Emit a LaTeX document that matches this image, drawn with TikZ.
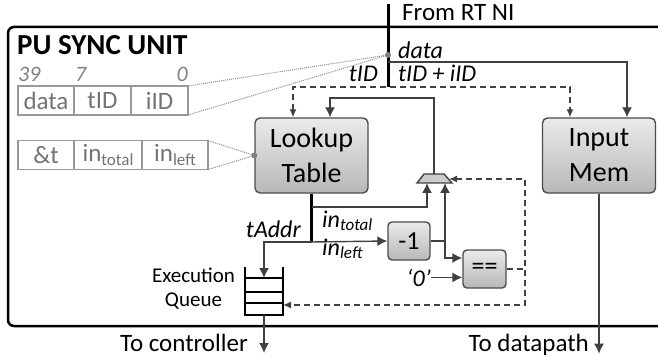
\documentclass[tikz,border=0pt]{standalone}
\usepackage{fontspec}
\setmainfont{Carlito}
\usepackage{tikz}
\usetikzlibrary{arrows.meta, positioning}
\newcommand\lowsub[1]{\raisebox{-0.3ex}{\fontsize{17}{17}\selectfont #1}}
\tikzset{
    x=1pt, y=-1pt, % one unit is one pixel of the sketch, y grows downwards
    >={Latex[length=10pt,width=10pt]}, % filled arrow heads
    wire/.style={line width=1.4pt, draw=black!75},
    bus/.style={line width=3pt, draw=black}, % wide buses
    ctrl/.style={wire, dash pattern=on 6pt off 4pt, >={Latex[length=8pt,width=7pt]}}, % control signals
    peek/.style={densely dotted, line width=1pt, draw=black!45}, % call-outs to the formats
    frame/.style={line width=2.5pt, rounded corners=6pt},
    unit/.style={draw=black!70, line width=1.4pt, rounded corners=5pt, top color=black!8, bottom color=black!28,
        align=center, minimum width=113pt, minimum height=75pt, font=\fontsize{28}{35}\selectfont},
    op/.style={unit, minimum width=42pt, minimum height=38pt, rounded corners=4pt, font=\fontsize{26}{28}\selectfont},
    field/.style={draw=black!40, line width=1.2pt, text=black!55, minimum height=29pt, inner sep=0pt, outer sep=0pt,
        font=\fontsize{25}{28}\selectfont},
    bitnum/.style={text=black!50, inner sep=0pt, font=\fontsize{22}{24}\selectfont\itshape},
    lbl/.style={inner sep=0pt, font=\fontsize{24}{26}\selectfont\itshape},
    txt/.style={inner sep=0pt, font=\fontsize{25}{27}\selectfont},
    tapdot/.style={fill=black!50},
}

\begin{document}
\begin{tikzpicture}
\useasboundingbox (0,0) rectangle (658,358);
% unit outline, open to the right
\draw[frame] (658,27) -- (8,27) -- (8,326) -- (658,326);
\node[anchor=base west, inner sep=0pt, font=\fontsize{29}{31}\selectfont\bfseries] (unitname) at (17,55) {PU SYNC UNIT};

% packet and table entry formats
\node[field, minimum width=56pt] (fdata) at (46,100.5) {data};
\node[field, minimum width=57pt, right=0pt of fdata] (ftid) {tID};
\node[field, minimum width=57pt, right=0pt of ftid] (fiid) {iID};
\node[bitnum, anchor=base west] (b39) at (18,82) {39};
\node[bitnum, anchor=base west] (b7) at (75,82) {7};
\node[bitnum, anchor=base east] (b0) at (188,82) {0};
\node[field, minimum width=56pt] (famp) at (46,155) {\&t};
\node[field, minimum width=68pt, right=0pt of famp] (ftotal) {in\lowsub{total}};
\node[field, minimum width=66pt, right=0pt of ftotal] (fleft) {in\lowsub{left}};

% blocks
\node[unit] (lut) at (311.5,155.5) {Lookup\\Table};
\node[unit] (imem) at (599,155.5) {Input\\Mem};
\node[op] (dec) at (409,241) {-1};
\node[op, minimum width=43pt] (cmp) at (484.5,269) {==};

% mux
\draw[wire, fill=black!20] (417,183) -- (424,174) -- (444,174) -- (452,183) -- cycle;
\coordinate (muxo) at (434,174);
\coordinate (muxa) at (427,183);
\coordinate (muxb) at (445,183);
\coordinate (muxr) at (449,179);

% incoming bus from the NI
\coordinate (ni) at (388,4);
\coordinate (nibot) at (388,87);
\coordinate (tap) at (388,55);
\coordinate (datatap) at (388,62);
\draw[bus] (ni) -- (nibot);
\node[txt, anchor=base west] (fromni) at (402,21) {From RT NI};
\node[lbl, anchor=base west] (ldata) at (398,59) {data};
\node[lbl, anchor=base west] (lkey) at (398,82) {tID + iID};
\node[lbl, anchor=base east] (ltid) at (378,82) {tID};
\draw[wire,->] (datatap) -| ([xshift=28pt]imem.north);
\draw[ctrl,<->] ([xshift=-18.5pt]lut.north) |- (nibot) -| ([xshift=-29pt]imem.north);

% format call-outs
\draw[peek] (tap) -- (fiid.north east);
\draw[peek] (tap) -- (fiid.south east);
\draw[peek] (lut.west) -- (fleft.north east);
\draw[peek] (lut.west) -- (fleft.south east);
\fill[tapdot] (tap) circle (3pt);
\fill[tapdot] (lut.west) circle (3pt);

% lookup outputs
\coordinate (ttap) at (311.5,207);
\coordinate (split) at (311.5,242);
\draw[bus] (lut.south) -- (split);
\draw[wire,->] (ttap) -| (muxa);
\draw[wire,->] (split) -- (dec.west);
\draw[wire,->] (muxo) -- ++(0,-76) -| ([xshift=18.5pt]lut.north);
\node[lbl, anchor=base west] (ltotal) at (322,227) {in\lowsub{total}};
\node[lbl, anchor=base west] (lleft) at (322,255) {in\lowsub{left}};
\node[lbl, anchor=base east] (ltaddr) at (301,237) {tAddr};

% decrement and compare
\coordinate (join) at (445,241);
\draw[wire,->] (dec.east) -| (muxb);
\draw[wire,->] (join) |- ([yshift=11pt]cmp.west);
\node[lbl, anchor=base east] (zero) at (431,286) {‘0’};
\draw[wire,->] (zero.east) -- (zero.east -| cmp.west);

% execution queue
\draw[line width=1.2pt] (245,267) -- (245,315) -- (283,315) -- (283,267);
\foreach \y in {278,292,303}
    \draw[line width=1.2pt] (245,\y) -- (283,\y);
\coordinate (qin) at (264,278);
\coordinate (qfb) at (283,305);
\coordinate (qout) at (264,315);
\node[align=center, font=\fontsize{21}{24}\selectfont] (qname) at (193.5,289) {Execution\\Queue};
\draw[wire,->] (split) -| (qin);

% feedback from the compare
\draw[ctrl] (cmp.east) -- (525,269);
\draw[ctrl,<->] (muxr) -- (525,179) -- (525,305) -- (qfb);

% leaving the unit
\draw[wire,->] (qout) -- ++(0,38);
\draw[wire,->] (imem.south) -- ++(0,160);
\node[txt, anchor=base east] (toctrl) at (248,351) {To controller};
\node[txt, anchor=base east] (todp) at (589,351) {To datapath};
\end{tikzpicture}
\end{document}
